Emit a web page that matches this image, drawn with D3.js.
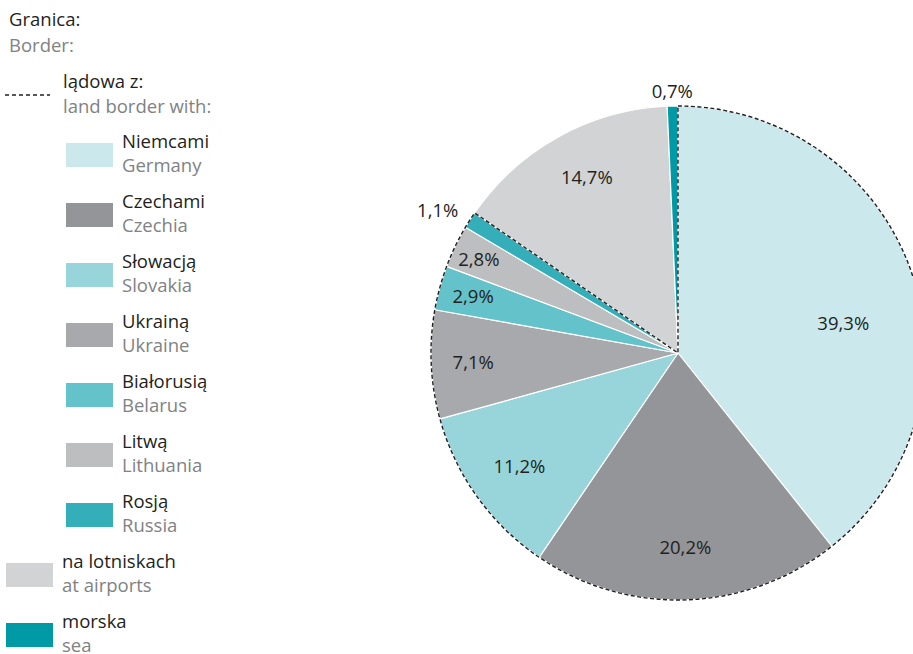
<!DOCTYPE html>
<html>
<head>
<meta charset="utf-8">
<script src="https://cdn.jsdelivr.net/npm/d3@7"></script>
<style>
  html, body { margin: 0; padding: 0; background: #fff; }
  svg { display: block; font-family: "Open Sans", "Noto Sans", sans-serif; }
</style>
</head>
<body>
<svg id="chart" width="913" height="654"></svg>
<script>
// Border crossings by type of border (share, %)
const categoriesPl = ["Niemcami", "Czechami", "Słowacją", "Ukrainą", "Białorusią", "Litwą", "Rosją", "na lotniskach", "morska"];
const categoriesEn = ["Germany", "Czechia", "Slovakia", "Ukraine", "Belarus", "Lithuania", "Russia", "at airports", "sea"];
const shares = [39.3, 20.2, 11.2, 7.1, 2.9, 2.8, 1.1, 14.7, 0.7];
const isLand = [true, true, true, true, true, true, true, false, false];
const colors = ["#cbe9ec", "#939598", "#98d5db", "#a7a9ac", "#63c2ca", "#bcbec0", "#34aeb9", "#d1d3d4", "#0099a6"];

// label placement per slice: radius as fraction of R, angular nudge (deg)
const labelLayout = [
  { r: 0.68, da: 9 }, { r: 0.79, da: 0 }, { r: 0.79, da: 0 }, { r: 0.83, da: 0 },
  { r: 0.86, da: 0 }, { r: 0.89, da: -0.5 }, { r: 1.13, da: -2 }, { r: 0.80, da: 1.5 }, { r: 1.06, da: 0 }
];

const svg = d3.select("#chart");
const cx = 678, cy = 353, R = 247;
const fmt = v => d3.format(".1f")(v).replace(".", ",") + "%";
const black = "#231f20", grey = "#808285";
const fs = 18.5;

// ---- pie ----
const pie = d3.pie().value(d => d).sort(null);
const arcs = pie(shares);
const arc = d3.arc().innerRadius(0).outerRadius(R);
const g = svg.append("g").attr("transform", `translate(${cx},${cy})`);

g.selectAll("path.slice")
  .data(arcs)
  .join("path")
  .attr("class", "slice")
  .attr("d", arc)
  .attr("fill", (d, i) => colors[i])
  .attr("stroke", "#fff")
  .attr("stroke-width", 1.2)
  .attr("stroke-linejoin", "round");

// dashed outline around land-border slices
const landArcs = arcs.filter((d, i) => isLand[i]);
const landStart = d3.min(landArcs, d => d.startAngle);
const landEnd = d3.max(landArcs, d => d.endAngle);
g.append("path")
  .attr("d", d3.arc().innerRadius(0).outerRadius(R)({ startAngle: landStart, endAngle: landEnd }))
  .attr("fill", "none")
  .attr("stroke", black)
  .attr("stroke-width", 1.4)
  .attr("stroke-dasharray", "4,2.5");

// value labels
g.selectAll("text.val")
  .data(arcs)
  .join("text")
  .attr("class", "val")
  .each(function (d, i) {
    const a = (d.startAngle + d.endAngle) / 2 + labelLayout[i].da * Math.PI / 180;
    const r = R * labelLayout[i].r;
    d3.select(this)
      .attr("x", r * Math.sin(a))
      .attr("y", -r * Math.cos(a))
      .attr("dy", "0.35em");
  })
  .attr("text-anchor", "middle")
  .attr("font-size", fs)
  .attr("fill", black)
  .text(d => fmt(d.data));

// ---- legend ----
const leg = svg.append("g");
leg.append("text").attr("x", 9).attr("y", 26).attr("font-size", fs).attr("fill", black).text("Granica:");
leg.append("text").attr("x", 9).attr("y", 52).attr("font-size", fs).attr("fill", grey).text("Border:");
leg.append("line").attr("x1", 5).attr("x2", 50).attr("y1", 95).attr("y2", 95)
  .attr("stroke", black).attr("stroke-width", 1.4).attr("stroke-dasharray", "4,3");
leg.append("text").attr("x", 63).attr("y", 88).attr("font-size", fs).attr("fill", black).text("lądowa z:");
leg.append("text").attr("x", 63).attr("y", 113).attr("font-size", fs).attr("fill", grey).text("land border with:");

const itemY = d3.scaleLinear().domain([0, 1]).range([148, 208]);
const items = leg.selectAll("g.item")
  .data(shares.map((v, i) => i))
  .join("g")
  .attr("class", "item")
  .attr("transform", i => `translate(${isLand[i] ? 66 : 6},${itemY(i)})`);

items.append("rect")
  .attr("x", 0).attr("y", -5).attr("width", 47).attr("height", 24)
  .attr("fill", i => colors[i]);
items.append("text")
  .attr("x", 56).attr("y", 0)
  .attr("font-size", fs).attr("fill", black)
  .text(i => categoriesPl[i]);
items.append("text")
  .attr("x", 56).attr("y", 24)
  .attr("font-size", fs).attr("fill", grey)
  .text(i => categoriesEn[i]);
</script>
</body>
</html>
